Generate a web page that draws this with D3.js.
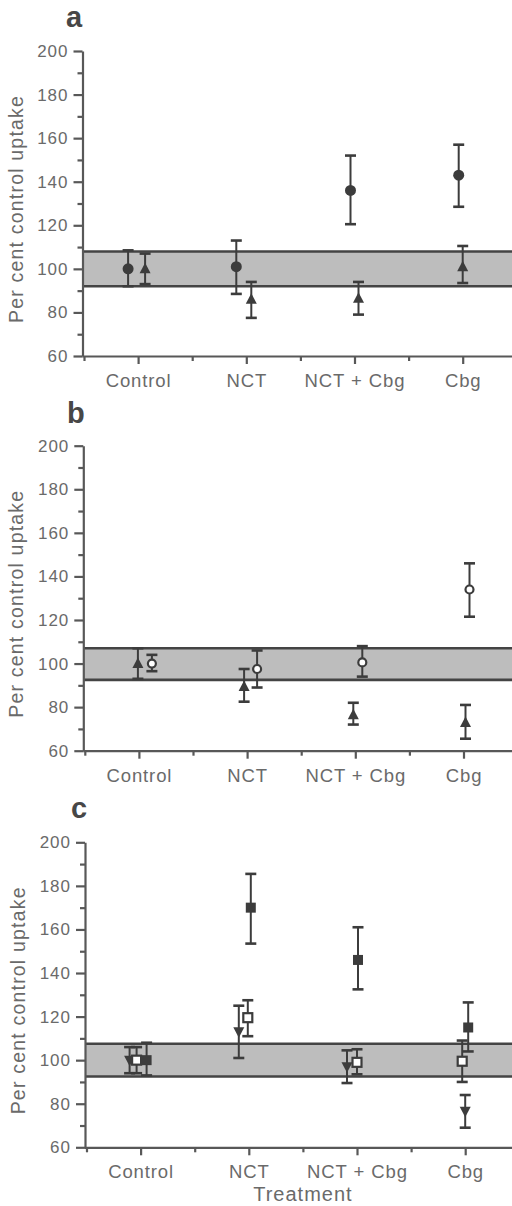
<!DOCTYPE html>
<html>
<head>
<meta charset="utf-8">
<script src="https://cdn.jsdelivr.net/npm/d3@7"></script>
<style>
  html, body { margin: 0; padding: 0; background: #fff; }
  svg { display: block; }
</style>
</head>
<body>
<svg id="chart" width="512" height="1206"></svg>
<script>
// ---------- data ----------
const categories = ["Control", "NCT", "NCT + Cbg", "Cbg"];
const yMajorTicks = [60, 80, 100, 120, 140, 160, 180, 200];
const yMinorTicks = [70, 90, 110, 130, 150, 170, 190];
const xLabel = "Treatment";
const yLabel = "Per cent control uptake";

// panel a
const aBand = [92, 108];
const aCircleMean = [100, 101, 136, 143];
const aCircleLo   = [92, 88.5, 120.5, 128.5];
const aCircleHi   = [108.5, 113, 152, 157];
const aTriMean    = [100, 86, 86.5, 101];
const aTriLo      = [93, 77.5, 79, 93.5];
const aTriHi      = [107, 94, 94, 110.5];

// panel b
const bBand = [92.5, 107];
const bTriMean    = [100, 89.5, 76.5, 73];
const bTriLo      = [93, 82.5, 72, 65.5];
const bTriHi      = [107, 97.5, 82, 81];
const bOpenCircleMean = [100, 97.5, 100.5, 134];
const bOpenCircleLo   = [96.5, 89, 94, 121.5];
const bOpenCircleHi   = [104, 106, 108, 146];

// panel c
const cBand = [92.5, 107.5];
const cDownTriMean = [100, 113, 97, 76.5];
const cDownTriLo   = [94, 101, 89.5, 69];
const cDownTriHi   = [106, 125, 104.5, 84];
const cOpenSqMean  = [100, 119.5, 99, 99.5];
const cOpenSqLo    = [94, 111, 93.5, 90];
const cOpenSqHi    = [106, 127.5, 105, 109];
const cFilledSqMean = [100, 170, 146, 115];
const cFilledSqLo   = [93, 153.5, 132.5, 104];
const cFilledSqHi   = [108, 185.5, 161, 126.5];

// ---------- layout (positions / styles, not data) ----------
const catPos = [1, 3, 5, 7];           // category positions on x domain [0,8]
const ink = "#3c3c3c";
const axisInk = "#585858";
const textInk = "#6a6a6a";
const bandFill = "#bdbdbd";
const fontFam = "'Liberation Sans', Arial, Helvetica, sans-serif";

const panels = [
  { letter: "a", axisX: 82.5, top: 51, bottom: 356, band: aBand, letterX: 66, letterY: 27,
    series: [
      { kind: "circle", mean: aCircleMean, lo: aCircleLo, hi: aCircleHi, dx: [-10, -10, -4, -4] },
      { kind: "triUp",  mean: aTriMean, lo: aTriLo, hi: aTriHi, dx: [7, 5, 4, 0] }
    ] },
  { letter: "b", axisX: 83.3, top: 445.7, bottom: 750.7, band: bBand, letterX: 67, letterY: 423,
    series: [
      { kind: "triUp",  mean: bTriMean, lo: bTriLo, hi: bTriHi, dx: [-1, -3, -2, 2] },
      { kind: "openCircle", mean: bOpenCircleMean, lo: bOpenCircleLo, hi: bOpenCircleHi, dx: [13, 10, 7, 6] }
    ] },
  { letter: "c", axisX: 85, top: 842.3, bottom: 1147.3, band: cBand, letterX: 71, letterY: 818,
    series: [
      { kind: "triDown", mean: cDownTriMean, lo: cDownTriLo, hi: cDownTriHi, dx: [-11, -10, -10, 0] },
      { kind: "filledSq", mean: cFilledSqMean, lo: cFilledSqLo, hi: cFilledSqHi, dx: [6, 2, 1, 3] },
      { kind: "openSq", mean: cOpenSqMean, lo: cOpenSqLo, hi: cOpenSqHi, dx: [-4, -1, 0, -3] }
    ], xTitle: true }
];

const svg = d3.select("#chart");

panels.forEach(p => {
  const g = svg.append("g");
  const y = d3.scaleLinear().domain([60, 200]).range([p.bottom, p.top]);
  const x = d3.scaleLinear().domain([0, 8]).range([p.axisX + 1.5, p.axisX + 1.5 + 8 * 54.1]);

  // band
  g.append("rect")
    .attr("x", p.axisX).attr("width", 512 - p.axisX)
    .attr("y", y(p.band[1])).attr("height", y(p.band[0]) - y(p.band[1]))
    .attr("fill", bandFill);
  g.selectAll("line.bandline").data(p.band).enter().append("line")
    .attr("x1", p.axisX).attr("x2", 512)
    .attr("y1", d => y(d)).attr("y2", d => y(d))
    .attr("stroke", "#444").attr("stroke-width", 2.6);

  // y axis
  const yAxis = g.append("g").attr("transform", `translate(${p.axisX},0)`)
    .call(d3.axisLeft(y).tickValues(yMajorTicks).tickSize(9).tickSizeOuter(0).tickPadding(6));
  g.append("g").attr("transform", `translate(${p.axisX},0)`)
    .call(d3.axisLeft(y).tickValues(yMinorTicks).tickSize(5).tickSizeOuter(0).tickFormat(""))
    .select(".domain").remove();

  // x axis
  const xAxis = g.append("g").attr("transform", `translate(0,${p.bottom})`)
    .call(d3.axisBottom(x).tickValues(catPos).tickSize(8).tickSizeOuter(0).tickPadding(10)
      .tickFormat((d, i) => categories[i]));
  g.append("g").attr("transform", `translate(0,${p.bottom})`)
    .call(d3.axisBottom(x).tickValues([0, 2, 4, 6, 8]).tickSize(5).tickSizeOuter(0).tickFormat(""))
    .select(".domain").remove();
  xAxis.select(".domain").attr("d", `M${p.axisX},0.5H512`);

  [yAxis, xAxis].forEach(ax => {
    ax.selectAll("path, line").attr("stroke", axisInk).attr("stroke-width", 2.2);
    ax.selectAll("text").attr("fill", textInk).attr("font-family", fontFam);
  });
  g.selectAll("g.tick line").attr("stroke", axisInk).attr("stroke-width", 2.2);
  yAxis.selectAll("text").attr("font-size", 17).attr("letter-spacing", "1px").attr("dx", "1px");
  xAxis.selectAll("text").attr("font-size", 18.5).attr("letter-spacing", "0.9px");

  // y title
  g.append("text")
    .attr("transform", `translate(${p.axisX - 60},${p.top + 158}) rotate(-90)`)
    .attr("text-anchor", "middle")
    .attr("font-family", fontFam).attr("font-size", 19.5).attr("letter-spacing", "1.2px")
    .attr("fill", textInk)
    .text(yLabel);

  // panel letter
  g.append("text")
    .attr("x", p.letterX).attr("y", p.letterY)
    .attr("font-family", fontFam).attr("font-weight", "bold").attr("font-size", 29)
    .attr("fill", "#474747")
    .text(p.letter);

  if (p.xTitle) {
    g.append("text")
      .attr("x", x(4)).attr("y", 1201)
      .attr("text-anchor", "middle")
      .attr("font-family", fontFam).attr("font-size", 20).attr("letter-spacing", "1px")
      .attr("fill", textInk)
      .text(xLabel);
  }

  // series
  p.series.forEach(s => {
    const pts = s.mean.map((m, i) => ({ m, lo: s.lo[i], hi: s.hi[i], cx: x(catPos[i]) + s.dx[i] }));
    const eg = g.append("g");
    eg.selectAll("line.err").data(pts).enter().append("line")
      .attr("x1", d => d.cx).attr("x2", d => d.cx)
      .attr("y1", d => y(d.lo)).attr("y2", d => y(d.hi))
      .attr("stroke", ink).attr("stroke-width", 2);
    eg.selectAll("line.capHi").data(pts).enter().append("line")
      .attr("x1", d => d.cx - 5.5).attr("x2", d => d.cx + 5.5)
      .attr("y1", d => y(d.hi)).attr("y2", d => y(d.hi))
      .attr("stroke", ink).attr("stroke-width", 2.6);
    eg.selectAll("line.capLo").data(pts).enter().append("line")
      .attr("x1", d => d.cx - 5.5).attr("x2", d => d.cx + 5.5)
      .attr("y1", d => y(d.lo)).attr("y2", d => y(d.lo))
      .attr("stroke", ink).attr("stroke-width", 2.6);

    const mg = g.append("g");
    const sel = mg.selectAll("path.mk").data(pts).enter();
    if (s.kind === "circle") {
      sel.append("circle").attr("cx", d => d.cx).attr("cy", d => y(d.m)).attr("r", 5.5).attr("fill", ink);
    } else if (s.kind === "openCircle") {
      sel.append("circle").attr("cx", d => d.cx).attr("cy", d => y(d.m)).attr("r", 4)
        .attr("fill", "#fff").attr("stroke", ink).attr("stroke-width", 2.2);
    } else if (s.kind === "triUp") {
      sel.append("path").attr("transform", d => `translate(${d.cx},${y(d.m)})`)
        .attr("d", "M0,-6L5.5,4.5L-5.5,4.5Z").attr("fill", ink);
    } else if (s.kind === "triDown") {
      sel.append("path").attr("transform", d => `translate(${d.cx},${y(d.m)})`)
        .attr("d", "M0,6L5.5,-4.5L-5.5,-4.5Z").attr("fill", ink);
    } else if (s.kind === "filledSq") {
      sel.append("rect").attr("x", d => d.cx - 5).attr("y", d => y(d.m) - 5)
        .attr("width", 10).attr("height", 10).attr("fill", ink);
    } else if (s.kind === "openSq") {
      sel.append("rect").attr("x", d => d.cx - 4.5).attr("y", d => y(d.m) - 4.5)
        .attr("width", 9).attr("height", 9).attr("fill", "#fff")
        .attr("stroke", ink).attr("stroke-width", 2.2);
    }
  });
});
</script>
</body>
</html>
